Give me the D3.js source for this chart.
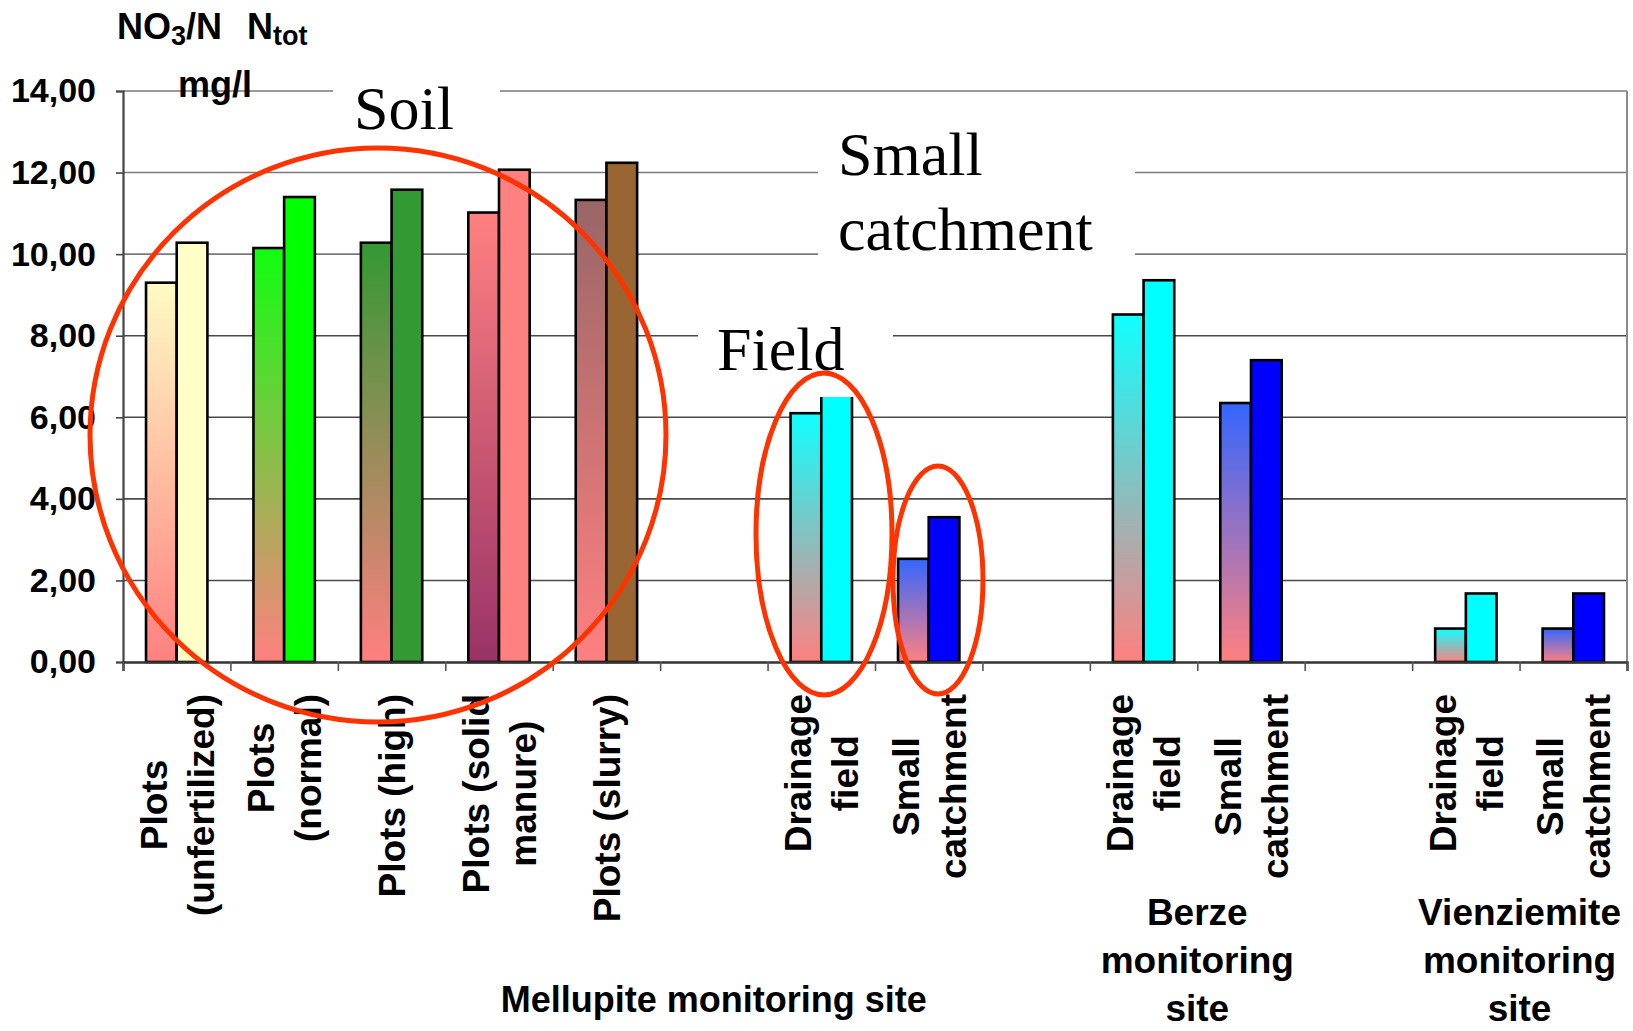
<!DOCTYPE html>
<html>
<head>
<meta charset="utf-8">
<script src="https://cdn.jsdelivr.net/npm/d3@7"></script>
<style>
  html, body { margin: 0; padding: 0; background: #fff; }
  svg { display: block; }
</style>
</head>
<body>
<svg id="chart" width="1633" height="1031"></svg>
<script>
// ---- data ----
const categories = [
  ["Plots", "(unfertilized)"],
  ["Plots", "(normal)"],
  ["Plots (high)"],
  ["Plots (solid", "manure)"],
  ["Plots (slurry)"],
  [],
  ["Drainage", "field"],
  ["Small", "catchment"],
  [],
  ["Drainage", "field"],
  ["Small", "catchment"],
  [],
  ["Drainage", "field"],
  ["Small", "catchment"]
];
// NO3/N concentration, mg/l
const no3Values  = [9.30, 10.15, 10.28, 11.02, 11.33, null, 6.10, 2.53, null, 8.52, 6.35, null, 0.82, 0.82];
// total N concentration, mg/l
const ntotValues = [10.28, 11.40, 11.58, 12.07, 12.24, null, 6.53, 3.55, null, 9.36, 7.40, null, 1.68, 1.68];
const yTicks = [0, 2, 4, 6, 8, 10, 12, 14];
const yTickLabels = ["0,00", "2,00", "4,00", "6,00", "8,00", "10,00", "12,00", "14,00"];
const siteNames = [
  ["Mellupite monitoring site"],
  ["Berze", "monitoring", "site"],
  ["Vienziemite", "monitoring", "site"]
];

// ---- styles ----
const no3Bottom = ["#FF8080", "#FF8080", "#FF8080", "#993366", "#FF8080", null, "#FF8080", "#FF8080", null, "#FF8080", "#FF8080", null, "#FF8080", "#FF8080"];
const no3Top    = ["#FFFBC4", "#10FF10", "#339933", "#FF8080", "#996666", null, "#10FFFF", "#3366FF", null, "#10FFFF", "#3366FF", null, "#10FFFF", "#3366FF"];
const ntotFill  = ["#FFFFC8", "#00FF00", "#339933", "#FF8080", "#996633", null, "#00FFFF", "#0000FF", null, "#00FFFF", "#0000FF", null, "#00FFFF", "#0000FF"];
// site label centre (in band units), baselines and font sizes
const siteCenters = [5.5, 10, 13];
const siteBaselines = [[1012], [925, 973, 1021], [925, 973, 1021]];
const siteFont = [36, 37, 37];

const svg = d3.select("#chart");
const plotL = 123, plotR = 1627, plotT = 91, plotB = 662;

const y = d3.scaleLinear().domain([0, 14]).range([plotB, plotT]);
const x = d3.scaleBand().domain(d3.range(categories.length)).range([plotL, plotR]).paddingInner(0).paddingOuter(0);
const xIdx = d3.scaleLinear().domain([0, categories.length]).range([plotL, plotR]);

// two bars per category, 150% gap between groups
const barW = x.bandwidth() / 3.5;
const groupOff = x.bandwidth() * 0.75 / 3.5;

// ---- gradients ----
const defs = svg.append("defs");
categories.forEach((c, i) => {
  if (no3Values[i] == null) return;
  const g = defs.append("linearGradient").attr("id", "grad" + i)
    .attr("x1", 0).attr("y1", 1).attr("x2", 0).attr("y2", 0);
  g.append("stop").attr("offset", 0).attr("stop-color", no3Bottom[i]);
  g.append("stop").attr("offset", 1).attr("stop-color", no3Top[i]);
});

// ---- gridlines ----
svg.append("g").selectAll("line").data(yTicks.filter(d => d > 0)).join("line")
  .attr("x1", plotL).attr("x2", plotR)
  .attr("y1", d => y(d)).attr("y2", d => y(d))
  .attr("stroke", d => d >= 10 ? "#7a7a7a" : "#4a4a4a")
  .attr("stroke-width", 1.6);

// right border of plot area
svg.append("line").attr("x1", plotR).attr("x2", plotR).attr("y1", plotT).attr("y2", plotB)
  .attr("stroke", "#8a8a8a").attr("stroke-width", 2);

// ---- bars ----
const idx = d3.range(categories.length).filter(i => no3Values[i] != null);
const bars = svg.append("g").attr("stroke", "#000").attr("stroke-width", 2.6);
bars.selectAll("rect.no3").data(idx).join("rect").attr("class", "no3")
  .attr("x", i => x(i) + groupOff)
  .attr("y", i => y(no3Values[i]))
  .attr("width", barW)
  .attr("height", i => y(0) - y(no3Values[i]))
  .attr("fill", i => `url(#grad${i})`);
bars.selectAll("rect.ntot").data(idx).join("rect").attr("class", "ntot")
  .attr("x", i => x(i) + groupOff + barW)
  .attr("y", i => y(ntotValues[i]))
  .attr("width", barW)
  .attr("height", i => y(0) - y(ntotValues[i]))
  .attr("fill", i => ntotFill[i]);

// ---- annotation labels on white boxes ----
const serif = "'Liberation Serif', 'Times New Roman', serif";
const notes = [
  { box: [333, 58, 167, 82], lines: ["Soil"], x: 354, base: [129] },
  { box: [818, 108, 317, 160], lines: ["Small", "catchment"], x: 838, base: [175, 250] },
  { box: [698, 300, 195, 97], lines: ["Field"], x: 717, base: [370] }
];
const ng = svg.append("g");
notes.forEach(n => {
  ng.append("rect").attr("x", n.box[0]).attr("y", n.box[1]).attr("width", n.box[2]).attr("height", n.box[3]).attr("fill", "#fff");
  n.lines.forEach((t, k) => {
    ng.append("text").attr("x", n.x).attr("y", n.base[k]).attr("font-family", serif)
      .attr("font-size", 62).attr("fill", "#000").text(t);
  });
});

// ---- axes ----
const sans = "'Liberation Sans', Arial, sans-serif";
const yAxis = svg.append("g").attr("transform", `translate(${plotL},0)`)
  .call(d3.axisLeft(y).tickValues(yTicks).tickFormat((d, i) => yTickLabels[i]).tickSize(7).tickPadding(20));
yAxis.select(".domain").attr("stroke", "#444").attr("stroke-width", 2.2);
yAxis.selectAll(".tick line").attr("stroke", "#444").attr("stroke-width", 1.6);
yAxis.selectAll(".tick text").attr("font-family", sans).attr("font-weight", "bold")
  .attr("font-size", 34).attr("fill", "#000");

const xAxis = svg.append("g").attr("transform", `translate(0,${plotB})`)
  .call(d3.axisBottom(xIdx).tickValues(d3.range(categories.length + 1)).tickFormat("").tickSize(9));
xAxis.select(".domain").attr("stroke", "#333").attr("stroke-width", 2.4);
xAxis.selectAll(".tick line").attr("stroke", "#555").attr("stroke-width", 1.6);

// category labels, rotated, centred lines
const labTop = 694, fs = 37, lh = 47;
const lg = svg.append("g").attr("font-family", sans).attr("font-weight", "bold").attr("font-size", fs);
categories.forEach((lines, i) => {
  if (!lines.length) return;
  const cx = x(i) + x.bandwidth() / 2;
  const g = lg.append("g").attr("transform", `translate(${cx},${labTop}) rotate(-90)`);
  const texts = lines.map((t, k) => g.append("text")
    .attr("y", (k - (lines.length - 1) / 2) * lh + 0.36 * fs)
    .attr("text-anchor", "middle").text(t));
  const L = d3.max(texts, t => t.node().getComputedTextLength());
  texts.forEach(t => t.attr("x", -L / 2));
});

// site labels
const sg = svg.append("g").attr("font-family", sans).attr("font-weight", "bold").attr("text-anchor", "middle");
siteNames.forEach((lines, s) => {
  lines.forEach((t, k) => {
    sg.append("text").attr("x", xIdx(siteCenters[s])).attr("y", siteBaselines[s][k])
      .attr("font-size", siteFont[s]).text(t);
  });
});

// ---- axis title ----
const title = svg.append("text").attr("x", 117).attr("y", 39)
  .attr("font-family", sans).attr("font-weight", "bold").attr("font-size", 36);
title.append("tspan").text("NO");
title.append("tspan").attr("font-size", 27).attr("dy", 6).text("3");
title.append("tspan").attr("dy", -6).text("/N");
title.append("tspan").attr("x", 247).text("N");
title.append("tspan").attr("font-size", 27).attr("dy", 6).text("tot");
svg.append("text").attr("x", 215).attr("y", 97).attr("text-anchor", "middle")
  .attr("font-family", sans).attr("font-weight", "bold").attr("font-size", 36).text("mg/l");

// ---- highlight ellipses ----
const rings = [
  { cx: 378, cy: 435, rx: 288, ry: 287 },
  { cx: 824, cy: 534, rx: 68, ry: 161 },
  { cx: 938, cy: 580, rx: 45, ry: 114 }
];
svg.append("g").selectAll("ellipse").data(rings).join("ellipse")
  .attr("cx", d => d.cx).attr("cy", d => d.cy).attr("rx", d => d.rx).attr("ry", d => d.ry)
  .attr("fill", "none").attr("stroke", "#FF3300").attr("stroke-width", 5);
</script>
</body>
</html>
